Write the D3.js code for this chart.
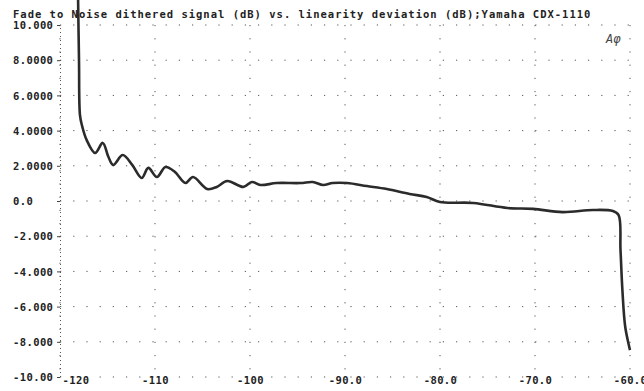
<!DOCTYPE html>
<html lang="en">
<head>
  <meta charset="UTF-8" />
  <title>Fade to Noise linearity - Yamaha CDX-1110</title>
  <script src="https://d3js.org/d3.v7.min.js"></script>
  <style>
    body {
      margin: 0;
      background: #fff;
    }
    svg text {
      font-family: "DejaVu Sans Mono", "Liberation Mono", monospace;
      font-weight: bold;
      fill: #222;
    }
    .grid line {
      stroke: #555;
      stroke-width: 1;
      stroke-dasharray: 1.2, 12;
    }
  </style>
</head>
<body>
<svg id="chart" width="644" height="391"></svg>
<script>
const titleText = "Fade to Noise dithered signal (dB) vs. linearity deviation (dB);Yamaha CDX-1110";

// x axis: dithered signal level (dB)
const xTicks = [-120, -110, -100, -90, -80, -70, -60];
const xLabels = ["-120", "-110", "-100", "-90.0", "-80.0", "-70.0", "-60.0"];

// y axis: linearity deviation (dB)
const yTicks = [10, 8, 6, 4, 2, 0, -2, -4, -6, -8, -10];
const yLabels = ["10.000", "8.0000", "6.0000", "4.0000", "2.0000", "0.0",
                 "-2.000", "-4.000", "-6.000", "-8.000", "-10.00"];

const level = [-118.1, -118.0, -117.9, -117.7, -117.2, -116.3, -115.5, -114.9, -114.4, -113.4,
               -112.4, -111.4, -110.7, -109.8, -108.9, -107.9, -106.8, -106.0, -104.5, -103.5,
               -102.4, -100.7, -99.8, -98.9, -97.2, -94.7, -93.4, -92.3, -91.3, -89.8,
               -87.7, -85.6, -83.2, -81.4, -80.0, -76.5, -72.9, -70.2, -67.1, -63.9,
               -61.8, -61.2, -61.0, -60.8, -60.5, -60.0];
const deviation = [11.6, 8.0, 4.89, 4.32, 3.47, 2.73, 3.30, 2.50, 2.05, 2.61,
                   2.05, 1.31, 1.88, 1.36, 1.93, 1.65, 1.02, 1.36, 0.68, 0.80,
                   1.14, 0.80, 1.08, 0.91, 1.02, 1.02, 1.08, 0.91, 1.02, 1.02,
                   0.85, 0.68, 0.40, 0.23, -0.06, -0.11, -0.40, -0.45, -0.63, -0.51,
                   -0.57, -0.80, -2.78, -5.06, -7.16, -8.47];

const svg = d3.select("#chart");
const x = d3.scaleLinear().domain([-120, -60]).range([60, 630]);
const y = d3.scaleLinear().domain([-10, 10]).range([377, 25]);

// title
svg.append("text")
  .attr("x", 13)
  .attr("y", 18)
  .style("font-size", "10.5px")
  .style("letter-spacing", "1px")
  .text(titleText);

// dotted grid
const grid = svg.append("g").attr("class", "grid");
grid.selectAll(".h")
  .data(yTicks)
  .enter()
  .append("line")
  .attr("x1", x(-120))
  .attr("x2", x(-60))
  .attr("y1", d => y(d))
  .attr("y2", d => y(d));
grid.selectAll(".v")
  .data(xTicks)
  .enter()
  .append("line")
  .attr("x1", d => x(d))
  .attr("x2", d => x(d))
  .attr("y1", y(10))
  .attr("y2", y(-10));

// left axis
const yAxis = svg.append("g")
  .attr("transform", `translate(${x(-120)},0)`)
  .call(d3.axisLeft(y).tickValues(yTicks).tickFormat((d, i) => yLabels[i]).tickSize(3));
yAxis.select(".domain").attr("stroke", "#555").attr("stroke-dasharray", "1,3");
yAxis.selectAll(".tick line").attr("stroke", "#444");
yAxis.selectAll("text")
  .attr("x", 13 - x(-120))
  .attr("dy", "0.35em")
  .attr("text-anchor", "start")
  .style("font-size", "10.5px")
  .style("letter-spacing", "0.4px")
  .style("font-family", null);

// bottom axis
const xAxis = svg.append("g")
  .attr("transform", `translate(0,${y(-10)})`)
  .call(d3.axisBottom(x).tickValues(xTicks).tickFormat((d, i) => xLabels[i]).tickSize(0));
xAxis.select(".domain").remove();
xAxis.selectAll("text")
  .attr("y", 7)
  .attr("dy", "0")
  .attr("text-anchor", (d, i) => i === 0 ? "start" : "middle")
  .attr("x", (d, i) => i === 0 ? 2 : 0)
  .style("font-size", "10.5px")
  .style("letter-spacing", "0.4px")
  .style("font-family", null);

// curve
const pts = level.map((v, i) => [v, deviation[i]]);
svg.append("path")
  .datum(pts)
  .attr("fill", "none")
  .attr("stroke", "#2b2b2b")
  .attr("stroke-width", 2.6)
  .attr("stroke-linejoin", "round")
  .attr("d", d3.line()
    .x(d => x(d[0]))
    .y(d => y(d[1]))
    .curve(d3.curveCatmullRom.alpha(0.5)));

// Audio Precision mark
svg.append("text")
  .attr("x", 606)
  .attr("y", 43)
  .style("font-size", "12px")
  .style("font-style", "italic")
  .style("font-weight", "normal")
  .style("fill", "#444")
  .text("Aφ");
</script>
</body>
</html>
